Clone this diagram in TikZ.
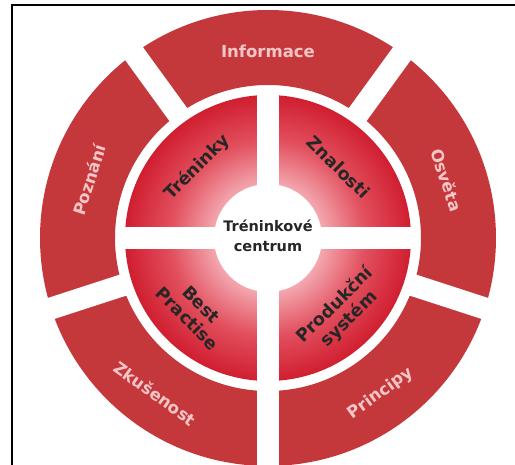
\documentclass[tikz,border=0pt]{standalone}
\usepackage{fontspec}
\setmainfont{DejaVu Sans}
\usepackage{tikz}

\definecolor{ringred}{HTML}{C4383C}
\definecolor{ringtext}{HTML}{F6C6C6}
\definecolor{hubred}{HTML}{D01E30}
\definecolor{hubmid}{HTML}{E2505E}
\definecolor{hubpink}{HTML}{F3A7AF}

% hub shading, 25bp is the rim of the shaded disc
\pgfdeclareradialshading{hubshade}{\pgfpoint{0bp}{0bp}}{%
  color(0bp)=(white); color(9.5bp)=(hubpink); color(17bp)=(hubmid);
  color(25bp)=(hubred); color(50bp)=(hubred)}

\begin{document}
\begin{tikzpicture}[
    x = 1pt,
    y = 1pt,
    gap/.style = {fill = white},
    ring/.style = {fill = ringred, even odd rule},
    ring label/.style = {text = ringtext, font = \bfseries\fontsize{16.5}{18}\selectfont},
    hub label/.style = {text = black!85, align = center, font = \bfseries\fontsize{17.5}{20}\selectfont},
    centre label/.style = {text = black!85, align = center, font = \bfseries\fontsize{14.5}{20}\selectfont}
]
\useasboundingbox (-268,-227) rectangle (247,238);

% Frame
\draw[line width = 1.6pt] (-256,-230) |- (250,233);

% Outer ring and its five gaps
\fill[ring] (0,0) circle (228) (0,0) circle (153);
\foreach \a in {54,126,198,270,342}
  \fill[gap, rotate = \a] (140,-11) rectangle (240,11);

% Hub with the white cross and centre
\shade[shading = hubshade] (0,0) circle (143);
\fill[gap] (-148,-11) rectangle (148,11);
\fill[gap] (-11,-148) rectangle (11,148);
\fill[gap] (0,0) circle (54);

% Ring labels
\node[ring label]             (informace) at (90:187)  {Informace};
\node[ring label, rotate=-72] (osveta)    at (18:188)  {Osvěta};
\node[ring label, rotate=36]  (principy)  at (-54:192) {Principy};
\node[ring label, rotate=-36] (zkusenost) at (234:192) {Zkušenost};
\node[ring label, rotate=72]  (poznani)   at (162:188) {Poznání};

% Hub labels
\node[hub label, rotate=45]  (treninky)  at (135:100) {Tréninky};
\node[hub label, rotate=-45] (znalosti)  at (45:100)  {Znalosti};
\node[hub label, rotate=-45] (best)      at (225:104) {Best\\Practise};
\node[hub label, rotate=45]  (produkcni) at (315:105) {Produkční\\systém};

\node[centre label] (centrum) at (0,2) {Tréninkové\\centrum};

\end{tikzpicture}
\end{document}
